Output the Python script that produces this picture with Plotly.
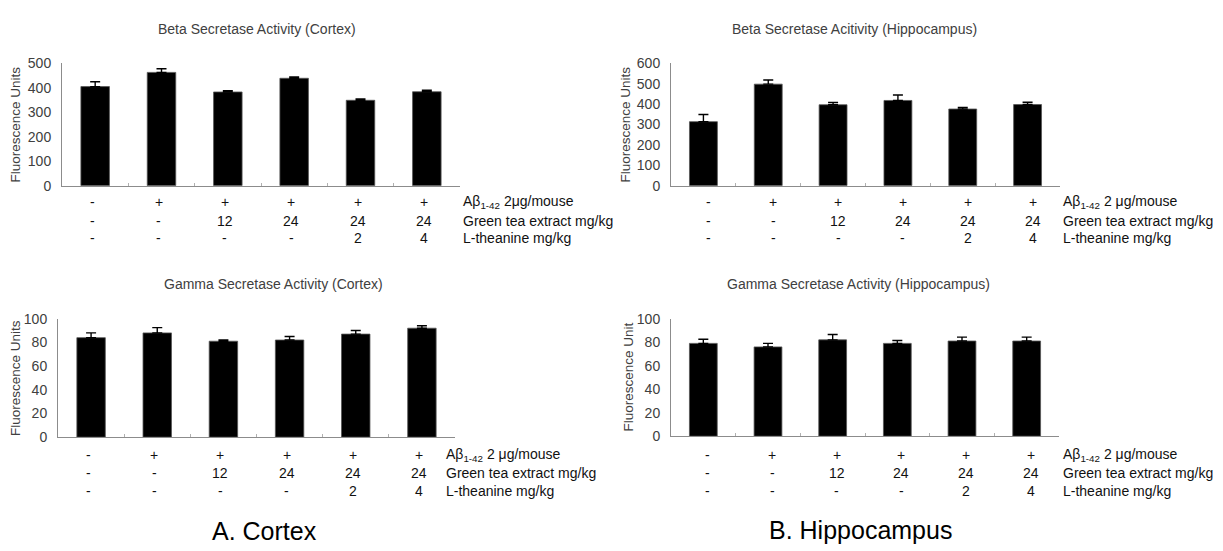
import plotly.graph_objects as go

# ---------------- data ----------------
groups = ["G1", "G2", "G3", "G4", "G5", "G6"]
abeta_row = ["-", "+", "+", "+", "+", "+"]
gte_row = ["-", "-", "12", "24", "24", "24"]
theanine_row = ["-", "-", "-", "-", "2", "4"]

beta_cortex = [405, 463, 383, 439, 349, 384]
beta_cortex_err = [20, 15, 5, 5, 5, 6]
beta_hippo = [314, 498, 397, 418, 376, 398]
beta_hippo_err = [35, 20, 11, 27, 8, 11]
gamma_cortex = [84, 88, 81, 82, 87, 92]
gamma_cortex_err = [4, 4.5, 1, 3, 3, 2]
gamma_hippo = [79, 76, 82, 79, 81, 81]
gamma_hippo_err = [3.5, 3, 4.5, 2.5, 3.3, 3.3]

titles = ["Beta Secretase Activity (Cortex)",
          "Beta Secretase Acitivity (Hippocampus)",
          "Gamma Secretase Activity (Cortex)",
          "Gamma Secretase Activity (Hippocampus)"]
ytitles = ["Fluorescence Units", "Fluorescence Units",
           "Fluorescence Units", "Fluorescence Unit"]
row_names_a = ["A\u03b2<sub>1-42</sub> 2\u03bcg/mouse",
               "Green tea extract mg/kg", "L-theanine mg/kg"]
row_names_b = ["A\u03b2<sub>1-42</sub> 2 \u03bcg/mouse",
               "Green tea extract mg/kg", "L-theanine mg/kg"]
yranges = [(500, 100), (600, 100), (100, 20), (100, 20)]
panel_labels = ["A. Cortex", "B. Hippocampus"]

# ---------------- layout helpers ----------------
W, H = 1223, 551
def px(x):
    return x / W
def py(y):
    return 1 - y / H

# plot boxes in pixels: (x0, x1, ytop, ybottom)
boxes = [(62, 460, 57, 183), (671, 1060, 57, 183),
         (58, 455, 320, 442), (671, 1059, 320, 441)]
title_pos = [(257, 22), (854, 22), (273, 284), (858, 284)]
ytitle_x = [16, 626, 16, 628]
row_y = [(200, 219, 237), (200, 219, 237), (460, 479, 497), (460, 479, 497)]
rowname_x = [461, 1061, 444, 1061]
label_shift = [-3, 5, -3, 4]

values = [beta_cortex, beta_hippo, gamma_cortex, gamma_hippo]
errors = [beta_cortex_err, beta_hippo_err, gamma_cortex_err, gamma_hippo_err]
rownames = [row_names_a, row_names_b, row_names_b, row_names_b]

FONT = "Liberation Sans, Arial, sans-serif"
GREY_TXT = "#404040"
AXIS_COL = "#8c8c8c"

fig = go.Figure()
annotations = []

for i in range(4):
    xa = "x" if i == 0 else f"x{i+1}"
    ya = "y" if i == 0 else f"y{i+1}"
    fig.add_trace(go.Bar(
        x=groups, y=values[i], xaxis=xa, yaxis=ya,
        marker=dict(color="black", line=dict(color="#555555", width=0.8)),
        error_y=dict(type="data", array=errors[i], symmetric=False,
                     arrayminus=[0] * len(groups),
                     color="black", thickness=1.4, width=5),
        showlegend=False, hoverinfo="x+y",
    ))
    x0, x1, yt, yb = boxes[i]
    ymax, dt = yranges[i]
    axsuffix = "" if i == 0 else str(i + 1)
    fig.layout["xaxis" + axsuffix] = dict(
        domain=[px(x0), px(x1)], anchor=ya, type="category",
        showticklabels=False, showline=True, linecolor=AXIS_COL, linewidth=1,
        ticks="inside", ticklen=3, tickcolor="#b0b0b0", tickson="boundaries",
        showgrid=False, zeroline=False, fixedrange=True,
    )
    fig.layout["yaxis" + axsuffix] = dict(
        domain=[py(yb), py(yt)], anchor=xa, range=[0, ymax], dtick=dt,
        tick0=0, showline=True, linecolor=AXIS_COL, linewidth=1,
        ticks="outside", ticklen=7, tickcolor="rgba(0,0,0,0)",
        showgrid=False, zeroline=False, fixedrange=True,
        tickfont=dict(family=FONT, size=14, color=GREY_TXT),
    )
    # panel title
    tx, ty = title_pos[i]
    annotations.append(dict(
        x=px(tx), y=py(ty), xref="paper", yref="paper", text=titles[i],
        showarrow=False, xanchor="center", yanchor="middle",
        font=dict(family=FONT, size=14, color=GREY_TXT)))
    # y axis title
    annotations.append(dict(
        x=px(ytitle_x[i]), y=py((yt + yb) / 2), xref="paper", yref="paper",
        text=ytitles[i], textangle=-90, showarrow=False,
        xanchor="center", yanchor="middle",
        font=dict(family=FONT, size=13.5, color=GREY_TXT)))
    # condition rows
    for r, row in enumerate([abeta_row, gte_row, theanine_row]):
        for g, lab in zip(groups, row):
            annotations.append(dict(
                x=g, y=py(row_y[i][r]), xref=xa, yref="paper", text=lab,
                showarrow=False, xanchor="center", yanchor="middle",
                xshift=label_shift[i],
                font=dict(family=FONT, size=14, color="#111111")))
        annotations.append(dict(
            x=px(rowname_x[i]), y=py(row_y[i][r]), xref="paper", yref="paper",
            text=rownames[i][r], showarrow=False, xanchor="left",
            yanchor="middle", font=dict(family=FONT, size=14, color="#111111")))

# big panel labels
annotations.append(dict(x=px(264), y=py(539), xref="paper", yref="paper",
                        text=panel_labels[0], showarrow=False,
                        xanchor="center", yanchor="middle",
                        font=dict(family=FONT, size=25, color="black")))
annotations.append(dict(x=px(861), y=py(538), xref="paper", yref="paper",
                        text=panel_labels[1], showarrow=False,
                        xanchor="center", yanchor="middle",
                        font=dict(family=FONT, size=25, color="black")))

fig.update_layout(
    width=W, height=H, margin=dict(l=0, r=0, t=0, b=0),
    paper_bgcolor="white", plot_bgcolor="white",
    bargap=0.57, annotations=annotations, showlegend=False,
)

fig.write_html("out.html",
               config={"displayModeBar": False},
               post_script="document.body.style.margin='0';"
                           "document.body.style.overflow='hidden';")
